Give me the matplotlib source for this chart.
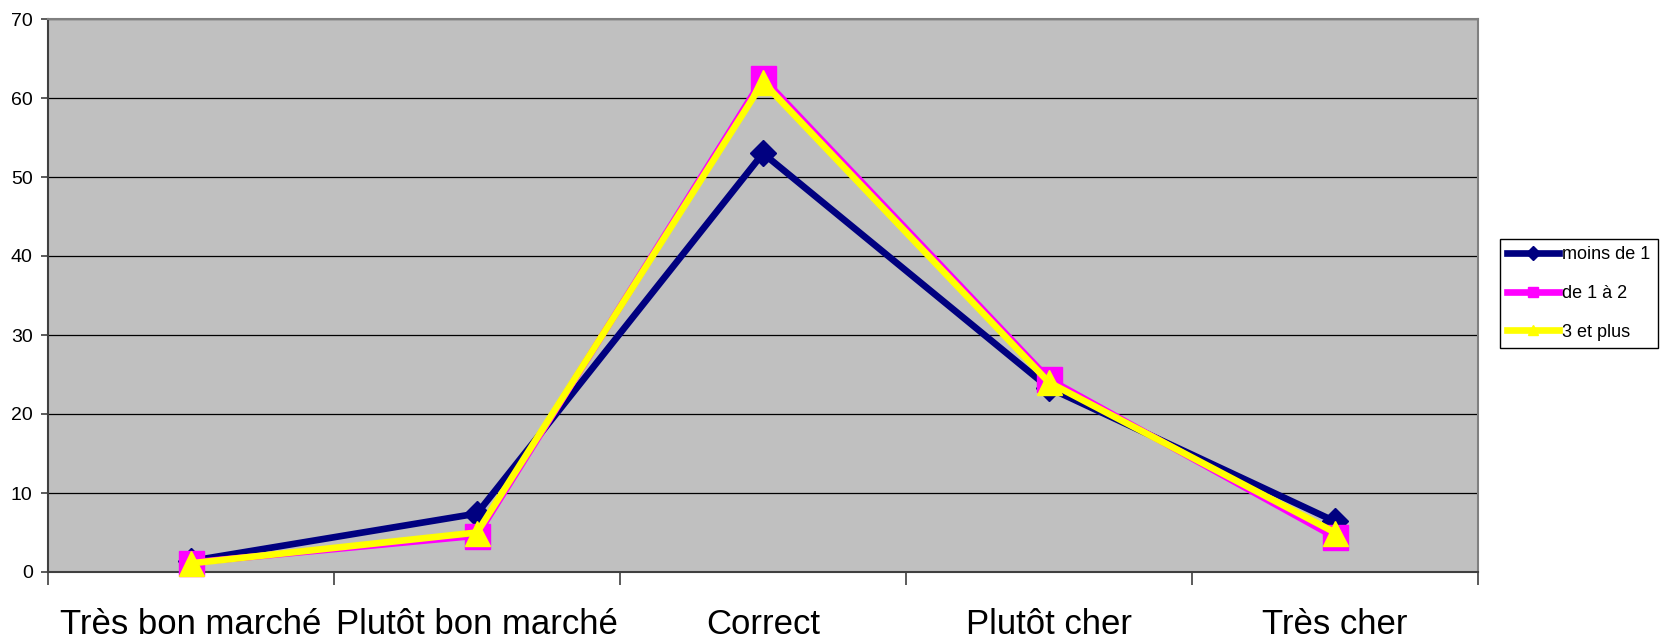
import matplotlib.pyplot as plt
from matplotlib.ticker import FixedLocator, NullFormatter

# Price perception by group
categories = ['Très bon marché', 'Plutôt bon marché', 'Correct', 'Plutôt cher', 'Très cher']
moins_de_1 = [1.4, 7.4, 53.0, 23.3, 6.4]
de_1_a_2 = [1.2, 4.6, 62.5, 24.4, 4.4]
trois_et_plus = [1.1, 5.0, 62.0, 24.0, 5.0]
series_names = ['moins de 1', 'de 1 à 2', '3 et plus']

plt.rcParams['font.family'] = ['Liberation Sans', 'DejaVu Sans']

fig = plt.figure(figsize=(16.65, 6.43), dpi=100)
ax = fig.add_axes([48 / 1665, 1 - 572 / 643, 1430 / 1665, 553 / 643])
ax.set_facecolor('#C0C0C0')

x = list(range(len(categories)))
l1, = ax.plot(x, moins_de_1, color='#000080', lw=4.8, marker='D', ms=13,
              clip_on=False, zorder=3)
l2, = ax.plot(x, de_1_a_2, color='#FF00FF', lw=4.8, marker='s', ms=18,
              clip_on=False, zorder=4)
l3, = ax.plot(x, trois_et_plus, color='#FFFF00', lw=4.8, marker='^', ms=18,
              clip_on=False, zorder=5)

ax.set_xlim(-0.5, len(categories) - 0.5)
ax.set_ylim(0, 70)
ax.set_yticks(range(0, 71, 10))
ax.yaxis.grid(True, color='black', lw=0.9)
ax.set_axisbelow(True)

# category labels on minor ticks, boundary tick marks on major ticks
ax.xaxis.set_major_locator(FixedLocator([i - 0.5 for i in range(len(categories) + 1)]))
ax.xaxis.set_major_formatter(NullFormatter())
ax.xaxis.set_minor_locator(FixedLocator(x))
ax.set_xticklabels(categories, minor=True)
ax.tick_params(axis='x', which='major', length=9, width=1.2, color='#404040')
ax.tick_params(axis='x', which='minor', length=0, pad=26, labelsize=25)
ax.tick_params(axis='y', length=5, width=1.2, color='#404040', labelsize=14, pad=6)

for side in ['top', 'right']:
    ax.spines[side].set_color('#808080')
    ax.spines[side].set_linewidth(1.5)
for side in ['left', 'bottom']:
    ax.spines[side].set_color('#404040')
    ax.spines[side].set_linewidth(1.5)

leg = fig.legend([l1, l2, l3], series_names, loc='upper left',
                 bbox_to_anchor=(1500 / 1665, 1 - 239 / 643), borderaxespad=0,
                 frameon=True, fancybox=False, edgecolor='black', framealpha=1,
                 prop={'size': 13},
                 handlelength=2.85, handletextpad=0.2, labelspacing=1.2,
                 borderpad=0.4)
leg.get_frame().set_linewidth(1.0)
for h in leg.legend_handles:
    h.set_markersize(7)

fig.savefig('out.png', dpi=100)
